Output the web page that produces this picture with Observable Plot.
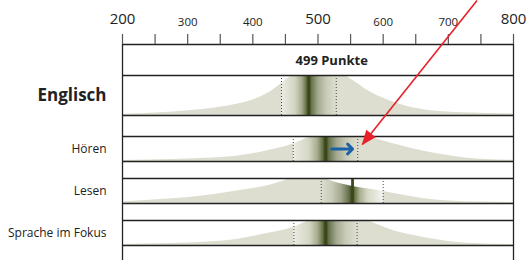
<!DOCTYPE html>
<html><head><meta charset="utf-8">
<script src="https://cdn.jsdelivr.net/npm/d3@7"></script>
<script src="https://cdn.jsdelivr.net/npm/@observablehq/plot@0.6"></script>
<style>
body{margin:0;background:#fff;}
svg{display:block;font-family:"Open Sans",sans-serif;}
</style>
</head><body><div id="chart"></div>
<script>
// ---------- data ----------
const rows = ["Englisch", "Hören", "Lesen", "Sprache im Fokus"];
const means = [486, 512, 553, 512];
const lowMarks = [444, 462, 505, 463];
const highMarks = [528, 561, 600, 560];
const fadeSides = ["low", "low", "high", "low"];
const englischScore = 499;
const scoreLabelAt = 521;

// density outlines: [score, relative height]
const densEnglisch = [[200,.03],[271,.08],[323,.15],[375,.28],[410,.45],[426,.58],[444,.8],[458,.97],[470,1],[539,1],[555,.86],[570,.69],[596,.46],[622,.3],[647,.19],[673,.12],[723,.07],[800,.04]];
const densHoeren = [[200,.04],[275,.08],[325,.13],[375,.21],[426,.45],[450,.6],[464,.72],[480,.9],[490,1],[571,1],[590,.9],[603,.8],[625,.65],[647,.5],[685,.3],[735,.12],[800,.05]];
const densLesen = [[200,.06],[271,.18],[323,.3],[375,.5],[426,.73],[445,.88],[458,1],[505,1],[530,.82],[553,.68],[580,.57],[600,.48],[625,.36],[660,.2],[700,.1],[750,.06],[800,.04]];
const densSprache = [[200,.04],[275,.08],[325,.13],[375,.24],[426,.5],[450,.63],[464,.74],[480,.92],[490,1],[571,1],[590,.85],[615,.6],[647,.4],[685,.22],[735,.08],[800,.04]];
const densities = [densEnglisch, densHoeren, densLesen, densSprache];

const axisTicks = [200,250,300,350,400,450,500,550,600,650,700,750,800];
const tickLabels = [200,300,400,500,600,700,800];
const majorLabels = [200,500,800];

const blueArrow = [{from: 521, to: 553, row: 1}];
const redArrow = [{from: 744, to: 568, row: 1}];

// ---------- layout & style ----------
const W = 527, H = 260;
const axisY = 44;
const rowTop = [75, 136, 178, 220];
const rowH = [40, 25, 25, 25];
const rowBottom = rowTop.map((t, i) => t + rowH[i]);
const beige = "#dddecf";
const dark = "#3a481a";
const ink = "#222";
const red = "#e8202a";

const marks = [];
densities.forEach((pts, i) => {
  marks.push(Plot.areaY(pts, {
    x: d => d[0],
    y1: () => rowBottom[i],
    y2: d => rowBottom[i] - d[1] * rowH[i],
    fill: `url(#grad${i})`,
    curve: "monotone-x"
  }));
});
const rowIdx = rows.map((_, i) => i);
const subIdx = rowIdx.slice(1);
marks.push(
  Plot.ruleX(rowIdx, {x: i => lowMarks[i], y1: i => rowTop[i], y2: i => rowBottom[i], stroke: "#444", strokeWidth: 1, strokeDasharray: "1,2"}),
  Plot.ruleX(rowIdx, {x: i => highMarks[i], y1: i => rowTop[i], y2: i => rowBottom[i], stroke: "#444", strokeWidth: 1, strokeDasharray: "1,2"}),
  Plot.ruleX(rowIdx, {x: i => means[i], y1: i => rowTop[i], y2: i => rowBottom[i], stroke: dark, strokeWidth: 2.8}),
  // horizontal frame lines
  Plot.ruleY([axisY, ...rowTop, ...rowBottom], {y: d => d, stroke: ink, strokeWidth: 1.3}),
  // vertical frame lines
  Plot.ruleX([200, 800], {x: d => d, y1: axisY, y2: H, stroke: ink, strokeWidth: 1.3}),
  // axis ticks
  Plot.ruleX(axisTicks, {x: d => d, y1: axisY - 10, y2: axisY, stroke: "#555", strokeWidth: 1.2}),
  Plot.text(tickLabels.filter(d => majorLabels.includes(d)), {
    x: d => d, y: 19, text: d => String(d),
    fontSize: 15, fill: ink, textAnchor: "middle", lineAnchor: "middle"
  }),
  Plot.text(tickLabels.filter(d => !majorLabels.includes(d)), {
    x: d => d, y: 21.5, text: d => String(d),
    fontSize: 11.5, fill: ink, textAnchor: "middle", lineAnchor: "middle"
  }),
  // score label
  Plot.text([englischScore], {x: () => scoreLabelAt, y: (axisY + rowTop[0]) / 2 + 0.5, text: d => `${d} Punkte`, fontWeight: "bold", fontSize: 13, fill: ink, lineAnchor: "middle"}),
  // row labels
  Plot.text([0], {
    x: () => 200, dx: -16, y: i => rowTop[i] + rowH[i] / 2,
    text: i => rows[i], textAnchor: "end", lineAnchor: "middle",
    fontSize: 17, fontWeight: "bold", fill: ink
  }),
  Plot.text(subIdx, {
    x: () => 200, dx: -16, y: i => rowTop[i] + rowH[i] / 2,
    text: i => rows[i], textAnchor: "end", lineAnchor: "middle",
    fontSize: 12, fill: ink
  }),
  Plot.arrow(blueArrow, {
    x1: d => d.from, x2: d => d.to,
    y1: d => rowTop[d.row] + rowH[d.row] / 2, y2: d => rowTop[d.row] + rowH[d.row] / 2,
    stroke: "#1b62a5", strokeWidth: 3, headLength: 8, headAngle: 90
  }),
  Plot.link(redArrow, {
    x1: d => d.from, y1: () => 0,
    x2: d => d.to, y2: d => rowTop[d.row] + 0.32 * rowH[d.row],
    stroke: red, strokeWidth: 1.6, markerEnd: "arrow"
  })
);

const svg = Plot.plot({
  width: W, height: H,
  marginLeft: 122, marginRight: 14, marginTop: axisY, marginBottom: 0,
  x: {domain: [200, 800], axis: null},
  y: {domain: [axisY, H], range: [axisY, H], axis: null},
  style: {fontFamily: '"Open Sans", sans-serif', background: "#fff", overflow: "visible"},
  marks
});

// gradients
const xs = svg.scale("x");
const X0 = xs.apply(200), X1 = xs.apply(800);
const off = v => (xs.apply(v) - X0) / (X1 - X0);
const defs = d3.select(svg).insert("defs", ":first-child");
rows.forEach((_, i) => {
  const lo = lowMarks[i], m = means[i], hi = highMarks[i];
  const L = m - lo, R = hi - m;
  let stops;
  if (fadeSides[i] === "low") {
    stops = [
      [200, beige], [lo, beige], [lo, "#ecece3"], [lo + .5 * L, "#d4d6c4"], [lo + .75 * L, "#a8ad8f"], [lo + .9 * L, "#6e784e"], [m, dark],
      [m, dark], [m + .12 * R, "#6b7550"], [m + .35 * R, "#a3a88e"], [m + .65 * R, "#c9cbb8"], [hi, beige], [800, beige]
    ];
  } else {
    stops = [
      [200, beige], [lo, beige], [lo + .35 * L, "#c9cbb8"], [lo + .65 * L, "#a3a88e"], [lo + .88 * L, "#6b7550"], [m, dark],
      [m, dark], [m + .1 * R, "#6e784e"], [m + .25 * R, "#a9ae90"], [m + .5 * R, "#d6d8c6"], [hi, "#f3f3ee"], [hi, beige], [800, beige]
    ];
  }
  const g = defs.append("linearGradient").attr("id", `grad${i}`)
    .attr("gradientUnits", "userSpaceOnUse")
    .attr("x1", X0).attr("x2", X1).attr("y1", 0).attr("y2", 0);
  stops.forEach(([v, c]) => g.append("stop").attr("offset", off(v)).attr("stop-color", c));
});

// filled red arrowhead (the red link is the only mark using a marker)
d3.select(svg).selectAll("marker").each(function() {
  const mk = d3.select(this);
  mk.attr("fill", red).attr("stroke", "none").attr("overflow", "visible")
    .attr("markerUnits", "userSpaceOnUse").attr("viewBox", "-10 -10 20 20")
    .attr("markerWidth", 20).attr("markerHeight", 20);
  mk.selectAll("*").remove();
  mk.append("path").attr("d", "M-14,-6L1,0L-14,6Z").attr("fill", red).attr("stroke", "none");
});

document.getElementById("chart").appendChild(svg);
</script>
</body></html>
